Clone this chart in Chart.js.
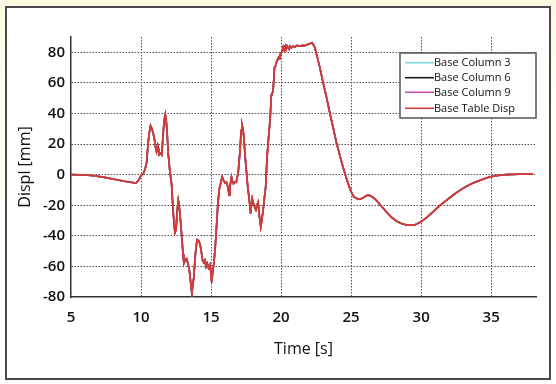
<!DOCTYPE html>
<html>
<head>
<meta charset="utf-8">
<script src="https://cdn.jsdelivr.net/npm/chart.js@4/dist/chart.umd.min.js"></script>
<style>
  html, body { margin: 0; padding: 0; }
  body { width: 556px; height: 384px; position: relative; overflow: hidden;
         background: linear-gradient(#fbf9e0, #fffff6 30%, #ffffff); }
  #frame { position: absolute; left: 5px; top: 6px; width: 542px; height: 370px;
           border: 2px solid #4a4a4a; background: #ffffff; }
  #wrap { position: absolute; left: 0; top: 0; width: 556px; height: 384px; }
</style>
</head>
<body>
<div id="frame"></div>
<div id="wrap"><canvas id="c" width="556" height="384"></canvas></div>
<script>
// ---- data ----
const timeS = [
  5.0, 6.0, 6.6, 7.3, 8.0, 8.8, 9.3, 9.64, 9.83, 10.0, 10.16, 10.3, 10.4, 10.52, 10.6, 10.68, 10.78, 10.87, 10.98, 11.05,
  11.11, 11.2, 11.25, 11.3, 11.4, 11.48, 11.56, 11.62, 11.68, 11.73, 11.8, 11.86, 11.94, 12.05, 12.18, 12.3, 12.42, 12.5, 12.58, 12.66,
  12.72, 12.82, 12.92, 13.0, 13.06, 13.15, 13.25, 13.35, 13.44, 13.54, 13.63, 13.7, 13.77, 13.88, 14.0, 14.1, 14.2, 14.3, 14.39, 14.48,
  14.56, 14.64, 14.72, 14.82, 14.92, 15.0, 15.05, 15.12, 15.2, 15.3, 15.39, 15.48, 15.58, 15.7, 15.8, 15.9, 16.0, 16.1, 16.2, 16.29,
  16.35, 16.46, 16.52, 16.6, 16.7, 16.8, 16.94, 17.07, 17.15, 17.2, 17.28, 17.34, 17.45, 17.53, 17.62, 17.7, 17.77, 17.82, 17.88, 17.94,
  18.0, 18.1, 18.2, 18.28, 18.36, 18.45, 18.55, 18.62, 18.72, 18.8, 18.9, 19.0, 19.1, 19.18, 19.24, 19.3, 19.34, 19.42, 19.48, 19.53,
  19.6, 19.67, 19.75, 19.82, 19.9, 19.96, 20.05, 20.15, 20.22, 20.3, 20.36, 20.43, 20.5, 20.58, 20.65, 20.75, 20.86, 21.0, 21.15, 21.33,
  21.5, 21.65, 21.8, 22.0, 22.21, 22.3, 22.4, 22.55, 22.76, 23.0, 23.24, 23.5, 23.71, 23.95, 24.19, 24.45, 24.67, 24.85, 25.02, 25.2,
  25.49, 25.7, 25.85, 26.1, 26.33, 26.55, 26.8, 27.1, 27.52, 27.9, 28.23, 28.6, 28.94, 29.25, 29.54, 29.85, 30.13, 30.45, 30.84, 31.3,
  31.8, 32.25, 32.75, 33.2, 33.7, 34.3, 34.88, 35.5, 36.08, 37.0, 37.98
];
const displMm = [
  0, -0.2, -0.7, -1.6, -2.9, -4.3, -5.0, -5.5, -3.7, -0.5, 0.6, 4, 8, 22, 28, 32, 30, 27, 22, 17,
  15, 19, 17, 13, 14, 13, 24, 32, 37, 39.4, 35, 28, 14, 3, -6, -25, -38, -36, -24, -16.8,
  -20, -30, -42, -52, -58, -56, -55, -58, -62, -70, -77.7, -72, -67, -52, -42.5, -43, -45, -50, -56, -57.5,
  -56, -60, -58, -61, -59, -65, -70.5, -63, -58, -47, -34, -20, -10, -5, -1.5, -4, -5.5, -5, -8, -13.5,
  -8, -1.6, -4, -6, -5, -5, 1.7, 16, 29, 33, 30, 24.5, 10, 1.7, -8, -14, -20, -25.5, -20, -15.7,
  -18, -21, -23, -20, -18, -27, -34, -30, -23, -16, -8, 11.5, 23.5, 32, 40, 52, 53, 54, 62, 70.3,
  71, 73.5, 75, 76.8, 76, 79, 80, 83.4, 81.5, 84, 82, 84.1, 83, 82, 84, 83, 84, 83.5, 84.5, 84,
  84.5, 84.2, 84.8, 85.5, 86.2, 85, 83.4, 78, 70.3, 60, 50.7, 39.5, 31, 21, 12.6, 4, -2.6, -7.5, -11.4, -14.5,
  -16, -15.8, -15.2, -13.6, -13.5, -14.8, -16.8, -20, -24.4, -28, -30.3, -32, -32.9, -33, -32.9, -31.5, -29.9, -27.6, -24.4, -20.5,
  -16.8, -13.6, -10.3, -7.8, -5.5, -3.4, -1.5, -0.5, 0, 0.3, 0.4
];
// the four traces coincide on the reference plot
const baseColumn3 = displMm;
const baseColumn6 = displMm;
const baseColumn9 = displMm;
const baseTableDisp = displMm;

const seriesLabels = ['Base Column 3', 'Base Column 6', 'Base Column 9', 'Base Table Disp'];
const seriesColors = ['#7fd6d8', '#1a1a1a', '#c24fb4', '#d23c34'];
const xTicks = [5, 10, 15, 20, 25, 30, 35];
const yTicks = [-80, -60, -40, -20, 0, 20, 40, 60, 80];

const toPts = vals => timeS.map((t, i) => ({ x: t, y: vals[i] }));
const seriesVals = [baseColumn3, baseColumn6, baseColumn9, baseTableDisp];

const datasets = seriesLabels.map((lab, i) => ({
  label: lab,
  data: toPts(seriesVals[i]),
  borderColor: seriesColors[i],
  backgroundColor: seriesColors[i],
  borderWidth: i === 3 ? 1.8 : 1.6,
  pointRadius: 0,
  tension: 0,
  fill: false,
  order: 3 - i
}));

const boxLegend = {
  id: 'boxLegend',
  afterDraw(chart) {
    const ctx = chart.ctx;
    const x0 = 400, y0 = 53, w = 136, h = 65;
    ctx.save();
    ctx.fillStyle = '#ffffff';
    ctx.fillRect(x0, y0, w, h);
    ctx.strokeStyle = '#555555';
    ctx.lineWidth = 1.5;
    ctx.strokeRect(x0, y0, w, h);
    const rows = [62.7, 77.7, 92.3, 108.3];
    ctx.font = '11px "Open Sans", sans-serif';
    ctx.textBaseline = 'middle';
    ctx.textAlign = 'left';
    chart.data.datasets.forEach((ds, i) => {
      const y = rows[i];
      ctx.strokeStyle = ds.borderColor;
      ctx.lineWidth = 1.6;
      ctx.beginPath();
      ctx.moveTo(405, y);
      ctx.lineTo(434, y);
      ctx.stroke();
      ctx.fillStyle = '#111111';
      ctx.fillText(ds.label, 434, y + 0.5);
    });
    ctx.restore();
  }
};

const tickFont = { family: '"Open Sans", sans-serif', size: 15, weight: '600' };
const titleFont = { family: '"Open Sans", sans-serif', size: 16, weight: '500' };

new Chart(document.getElementById('c'), {
  type: 'line',
  data: { datasets },
  options: {
    responsive: false,
    animation: false,
    events: [],
    layout: { padding: { left: 0, top: 37, right: 20, bottom: 0 } },
    plugins: { legend: { display: false }, tooltip: { enabled: false } },
    scales: {
      x: {
        type: 'linear',
        min: 5, max: 38.2,
        afterBuildTicks: s => { s.ticks = xTicks.map(v => ({ value: v })); },
        afterFit: s => { s.height = 87; },
        ticks: { font: tickFont, color: '#111', padding: 12, maxRotation: 0, autoSkip: false },
        grid: {
          drawTicks: false, tickLength: 0, lineWidth: 1,
          color: c => (c.tick && c.tick.value === 5) ? 'rgba(0,0,0,0)' : '#505050'
        },
        border: { display: true, color: '#333', width: 1.5, dash: [1.5, 1.5] },
        title: { display: true, text: 'Time [s]', font: titleFont, color: '#111',
                 padding: { top: 0, bottom: 25 } }
      },
      y: {
        type: 'linear',
        min: -80, max: 90,
        afterBuildTicks: s => { s.ticks = yTicks.map(v => ({ value: v })); },
        afterFit: s => { s.width = 71; },
        ticks: { font: tickFont, color: '#111', padding: 6, autoSkip: false },
        grid: {
          drawTicks: false, tickLength: 0, lineWidth: 1,
          color: c => (c.tick && c.tick.value === -80) ? 'rgba(0,0,0,0)' : '#505050'
        },
        border: { display: true, color: '#333', width: 1.5, dash: [1.5, 1.5] },
        title: { display: true, text: 'Displ [mm]', font: titleFont, color: '#111',
                 padding: { top: 16, bottom: 0 } }
      }
    }
  },
  plugins: [boxLegend]
});
</script>
</body>
</html>
